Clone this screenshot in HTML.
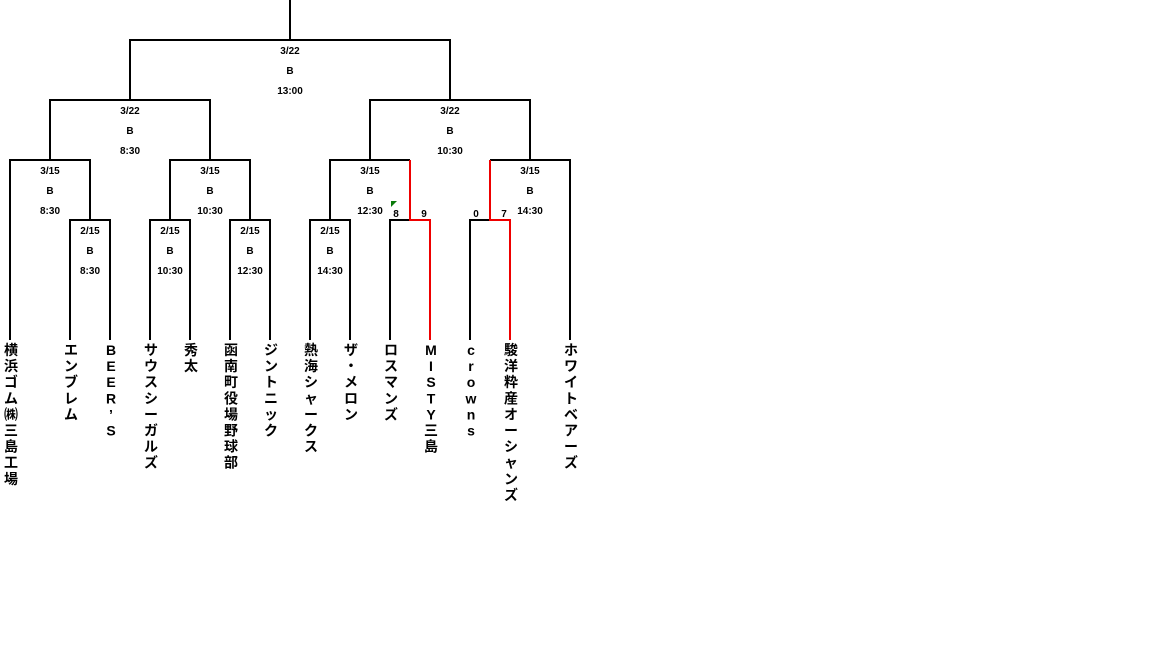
<!DOCTYPE html>
<html><head><meta charset="utf-8"><style>
body{margin:0;background:#fff;}
svg{display:block}
text{font-family:"Liberation Sans","Noto Sans CJK JP",sans-serif;}
.d{font-size:10px;text-anchor:middle;font-weight:bold}
.n{font-size:14px;text-anchor:middle;font-weight:bold}
</style></head><body>
<svg width="1152" height="648" viewBox="0 0 1152 648" xmlns="http://www.w3.org/2000/svg">
<g stroke="#000" stroke-width="2" fill="none">
<path d="M290 0V40M130 100V40H450V100"/>
<path d="M50 160V100H210V160M370 160V100H530V160"/>
<path d="M10 340V160H90V220M170 220V160H250V220M330 220V160H410M490 160H570V340"/>
<path d="M70 340V220H110V340M150 340V220H190V340M230 340V220H270V340M310 340V220H350V340M390 340V220H410M470 340V220H490"/>
</g>
<g stroke="#e00" stroke-width="2" fill="none">
<path d="M410 160V220H430V340M490 160V220H510V340"/>
</g>
<polygon points="391,201 397,201 391,207" fill="#0a7a0a"/>
<g class="d">
<text x="290" y="54">3/22</text><text x="290" y="74">B</text><text x="290" y="94">13:00</text>
<text x="130" y="114">3/22</text><text x="130" y="134">B</text><text x="130" y="154">8:30</text>
<text x="450" y="114">3/22</text><text x="450" y="134">B</text><text x="450" y="154">10:30</text>
<text x="50" y="174">3/15</text><text x="50" y="194">B</text><text x="50" y="214">8:30</text>
<text x="210" y="174">3/15</text><text x="210" y="194">B</text><text x="210" y="214">10:30</text>
<text x="370" y="174">3/15</text><text x="370" y="194">B</text><text x="370" y="214">12:30</text>
<text x="530" y="174">3/15</text><text x="530" y="194">B</text><text x="530" y="214">14:30</text>
<text x="90" y="234">2/15</text><text x="90" y="254">B</text><text x="90" y="274">8:30</text>
<text x="170" y="234">2/15</text><text x="170" y="254">B</text><text x="170" y="274">10:30</text>
<text x="250" y="234">2/15</text><text x="250" y="254">B</text><text x="250" y="274">12:30</text>
<text x="330" y="234">2/15</text><text x="330" y="254">B</text><text x="330" y="274">14:30</text>
<text x="396" y="217">8</text><text x="424" y="217">9</text>
<text x="476" y="217">0</text><text x="504" y="217">7</text>
</g>
<g class="n" id="names"></g>
</svg>
<script>
var names=[[10,"横浜ゴム㈱三島工場"],[70,"エンブレム"],[110,"BEER’S"],[150,"サウスシーガルズ"],[190,"秀太"],[230,"函南町役場野球部"],[270,"ジントニック"],[310,"熱海シャークス"],[350,"ザ・メロン"],[390,"ロスマンズ"],[430,"MISTY三島"],[470,"crowns"],[510,"駿洋粋産オーシャンズ"],[570,"ホワイトベアーズ"]];
var g=document.getElementById("names"),ns="http://www.w3.org/2000/svg";
names.forEach(function(p){var ch=Array.from(p[1]);ch.forEach(function(c,i){var t=document.createElementNS(ns,"text");t.setAttribute("x",p[0]+1);t.setAttribute("y",355+i*16.1);t.textContent=c;g.appendChild(t);});});
</script>
</body></html>
